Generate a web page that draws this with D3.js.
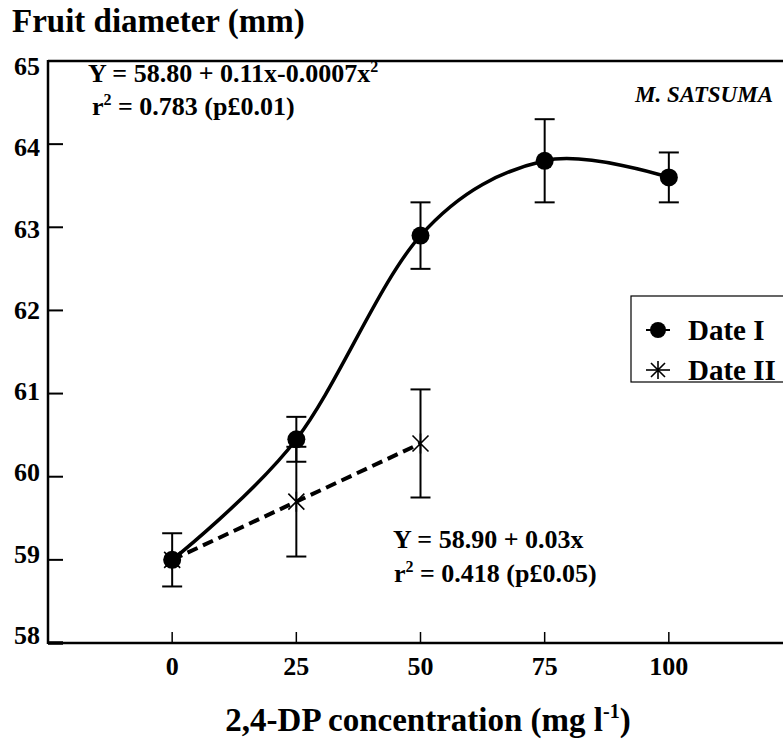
<!DOCTYPE html>
<meta charset="utf-8">
<style>
body{margin:0;background:#fff;}
text{font-family:"Liberation Serif","Times New Roman",serif;font-weight:bold;fill:#000;}
.frame{stroke:#000;stroke-width:2.5;}
.tick{stroke:#000;stroke-width:2;}
.err{stroke:#000;stroke-width:2;fill:none;}
</style>
<body>
<script src="https://d3js.org/d3.v7.min.js"></script>
<script>

var dose=[0,25,50,75,100];
var dateI=[59.0,60.45,62.9,63.8,63.6];
var dateIErr=[0.32,0.27,0.4,0.5,0.3];

var dose2=[0,25,50];
var dateII=[59.0,59.7,60.4];
var dateIIErr=[0,0.66,0.65];

var yTicks=[58,59,60,61,62,63,64,65];
var xTicks=[0,25,50,75,100];
var series=["Date I","Date II"];

var W=783,H=743;
var svg=d3.select("body").append("svg").attr("width",W).attr("height",H);

var x=d3.scaleLinear().domain([-25,125]).range([48,793]);
var y=d3.scaleLinear().domain([58,65]).range([643,61]);
// tick labels sit slightly off the tick marks in the original
var yLab=d3.scaleLinear().domain([58,65]).range([635,66]);

// frame
svg.append("line").attr("class","frame").attr("x1",x(-25)).attr("x2",x(-25)).attr("y1",y(65)-1).attr("y2",y(58)+1);
svg.append("line").attr("class","frame").attr("x1",x(-25)).attr("x2",W).attr("y1",y(65)).attr("y2",y(65));
svg.append("line").attr("class","frame").attr("x1",x(-25)).attr("x2",W).attr("y1",y(58)).attr("y2",y(58));

// y ticks (inside)
svg.selectAll(".yt").data(yTicks.filter(d=>d<65)).enter().append("line").attr("class","tick")
	.attr("x1",x(-25)).attr("x2",x(-25)+15).attr("y1",d=>y(d)).attr("y2",d=>y(d))
	.style("stroke-width",d=>d==58?3.5:2);
svg.selectAll(".yl").data(yTicks).enter().append("text")
	.attr("x",40).attr("y",d=>yLab(d)+9).attr("text-anchor","end")
	.style("font-size","26px").text(d=>d);

// x ticks (inside, upward)
svg.selectAll(".xt").data(xTicks).enter().append("line").attr("class","tick")
	.attr("x1",d=>x(d)).attr("x2",d=>x(d)).attr("y1",y(58)).attr("y2",y(58)-11)
	.style("stroke-width",1.5);
svg.selectAll(".xl").data(xTicks).enter().append("text")
	.attr("x",d=>x(d)).attr("y",675).attr("text-anchor","middle")
	.style("font-size","26px").text(d=>d);

// titles
svg.append("text").attr("x",12).attr("y",32).style("font-size","33px").text("Fruit diameter (mm)");
var xl=svg.append("text").attr("x",428).attr("y",731).attr("text-anchor","middle").style("font-size","33px");
xl.append("tspan").text("2,4-DP concentration (mg l");
xl.append("tspan").attr("dy",-13).style("font-size","20px").text("-1");
xl.append("tspan").attr("dy",13).text(")");

// error bars
function errBars(xs,vs,es){
	var g=svg.append("g");
	xs.forEach(function(d,i){
		if(!es[i]) return;
		var lo=y(vs[i]-es[i]),hi=y(vs[i]+es[i]),cx=x(d);
		g.append("line").attr("class","err").attr("x1",cx).attr("x2",cx).attr("y1",lo).attr("y2",hi);
		g.append("line").attr("class","err").attr("x1",cx-10).attr("x2",cx+10).attr("y1",lo).attr("y2",lo);
		g.append("line").attr("class","err").attr("x1",cx-10).attr("x2",cx+10).attr("y1",hi).attr("y2",hi);
	});
}
errBars(dose,dateI,dateIErr);
errBars(dose2,dateII,dateIIErr);

// Date II dashed
var line2=d3.line().x((d,i)=>x(dose2[i])).y(d=>y(d));
svg.append("path").datum(dateII).attr("d",line2)
	.style("fill","none").style("stroke","#000").style("stroke-width",4).style("stroke-dasharray","11,6");

// Date I smooth
var line1=d3.line().x((d,i)=>x(dose[i])).y(d=>y(d)).curve(d3.curveCardinal.tension(0));
svg.append("path").datum(dateI).attr("d",line1)
	.style("fill","none").style("stroke","#000").style("stroke-width",3.5);

function star(g,cx,cy,s){
	var p="M"+(cx-s)+","+(cy-s)+"L"+(cx+s)+","+(cy+s)+"M"+(cx-s)+","+(cy+s)+"L"+(cx+s)+","+(cy-s)
		+"M"+cx+","+(cy-s-2)+"L"+cx+","+(cy+s+2);
	g.append("path").attr("d",p).style("stroke","#000").style("stroke-width",1.6).style("fill","none");
}

var mk2=svg.append("g");
dateII.forEach((d,i)=>star(mk2,x(dose2[i]),y(d),8));

svg.selectAll(".dot").data(dateI).enter().append("circle")
	.attr("cx",(d,i)=>x(dose[i])).attr("cy",d=>y(d)).attr("r",9).style("fill","#000");

// annotations
var e1=svg.append("text").attr("x",88).attr("y",82).style("font-size","26px");
e1.append("tspan").text("Y =  58.80 + 0.11x-0.0007x");
e1.append("tspan").attr("dy",-10).style("font-size","16px").text("2");
var r1=svg.append("text").attr("x",92).attr("y",115).style("font-size","26px");
r1.append("tspan").text("r");
r1.append("tspan").attr("dy",-10).style("font-size","16px").text("2");
r1.append("tspan").attr("dy",10).text(" =  0.783 (p£0.01)");

svg.append("text").attr("x",773).attr("y",102).attr("text-anchor","end")
	.style("font-size","23px").style("font-style","italic").text("M. SATSUMA");

var e2=svg.append("text").attr("x",393).attr("y",548).style("font-size","26px");
e2.append("tspan").text("Y =  58.90 + 0.03x");
var r2=svg.append("text").attr("x",394).attr("y",582).style("font-size","26px");
r2.append("tspan").text("r");
r2.append("tspan").attr("dy",-10).style("font-size","16px").text("2");
r2.append("tspan").attr("dy",10).text(" =  0.418 (p£0.05)");

// legend
var lg=svg.append("g");
lg.append("rect").attr("x",631).attr("y",296).attr("width",180).attr("height",86)
	.style("fill","#fff").style("stroke","#000").style("stroke-width",1.2);
series.forEach(function(s,i){
	var cy=330+i*40;
	lg.append("line").attr("x1",646).attr("x2",670).attr("y1",cy).attr("y2",cy).style("stroke","#000").style("stroke-width",i?1.6:2);
	if(i==0) lg.append("circle").attr("cx",658).attr("cy",cy).attr("r",8).style("fill","#000");
	else star(lg,658,cy,7);
	lg.append("text").attr("x",688).attr("y",cy+10).style("font-size","29px").text(s);
});

</script>
</body>
